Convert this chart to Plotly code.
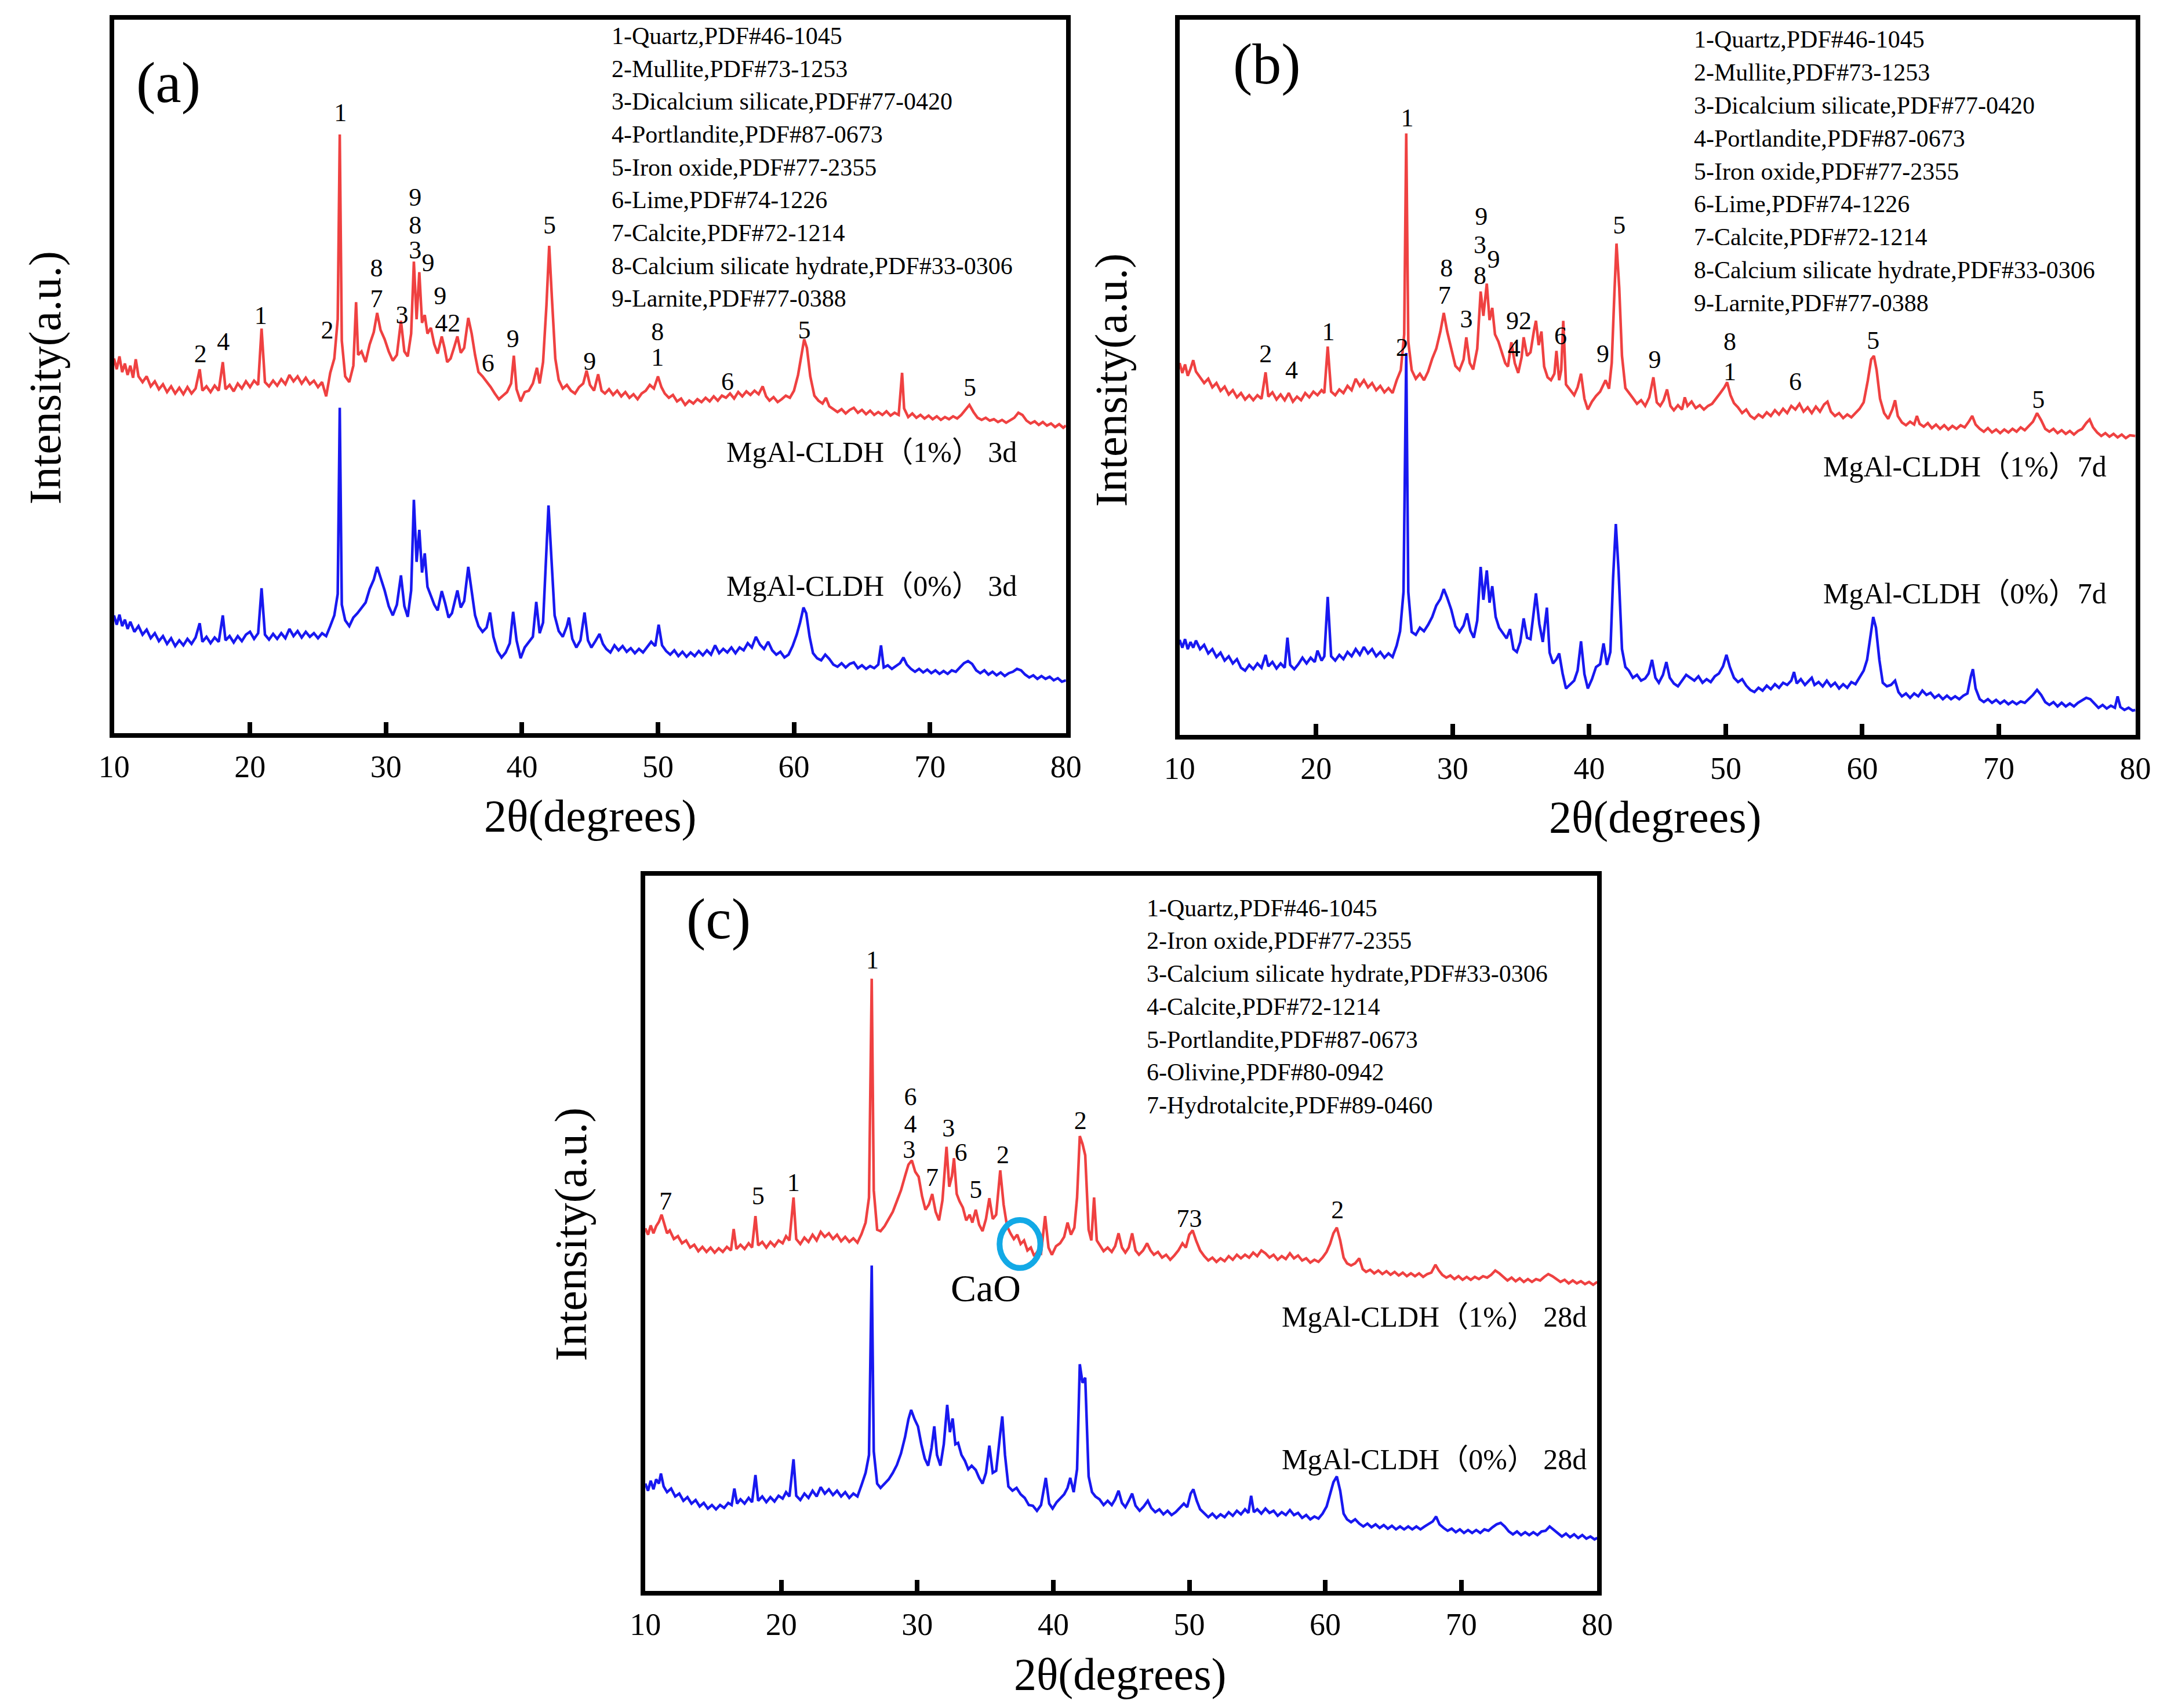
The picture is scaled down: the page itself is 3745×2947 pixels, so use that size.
import plotly.graph_objects as go

# ---------------- panel (a): 3 d ----------------
a_red = [(10.0,52.5),(10.2,51.0),(10.4,52.8),(10.6,50.6),(10.8,51.8),(11.0,50.2),(11.2,51.5),(11.4,49.8),(11.6,52.4),(11.8,50.0),
    (12.1,49.2),(12.4,50.0),(12.7,48.6),(13.0,49.3),(13.3,48.2),(13.6,48.9),(13.9,47.8),(14.2,48.6),(14.5,47.6),(14.8,48.4),
    (15.1,47.5),(15.4,48.5),(15.7,47.6),(16.0,48.3),(16.3,51.0),(16.5,48.0),(16.8,48.6),(17.1,47.8),(17.4,48.7),(17.7,48.0),
    (18.0,52.0),(18.2,48.2),(18.5,48.8),(18.8,47.9),(19.1,49.0),(19.4,48.3),(19.7,49.3),(20.0,48.5),(20.3,49.4),(20.6,48.8),
    (20.85,56.7),(21.1,49.2),(21.4,48.6),(21.7,49.4),(22.0,48.7),(22.3,49.6),(22.6,48.9),(22.9,50.2),(23.2,49.3),(23.5,50.0),
    (23.8,49.0),(24.1,49.8),(24.4,48.9),(24.7,49.4),(25.0,48.5),(25.3,49.2),(25.6,47.2),(25.9,50.5),(26.2,52.5),(26.45,58.0),
    (26.6,83.9),(26.75,55.0),(27.0,50.0),(27.3,49.2),(27.6,51.5),(27.8,60.4),(27.95,53.0),(28.2,53.5),(28.5,52.0),(28.8,54.5),
    (29.1,56.2),(29.35,58.9),(29.6,56.5),(29.9,55.2),(30.2,53.5),(30.5,52.2),(30.8,53.0),(31.1,57.8),(31.35,53.5),(31.6,52.8),
    (31.85,56.0),(32.05,66.1),(32.25,58.0),(32.45,64.6),(32.65,57.5),(32.85,58.6),(33.05,56.0),(33.3,56.8),(33.55,54.5),(33.8,53.2),
    (34.1,55.6),(34.3,54.0),(34.5,52.0),(34.75,52.5),(35.0,54.0),(35.25,55.6),(35.5,53.3),(35.75,54.0),(36.05,58.2),(36.3,56.0),
    (36.55,53.0),(36.8,50.6),(37.1,50.0),(37.4,49.3),(37.7,48.5),(38.0,47.6),(38.3,46.8),(38.6,47.3),(38.9,47.8),(39.2,49.0),
    (39.4,52.9),(39.6,48.2),(39.9,46.5),(40.2,47.8),(40.5,48.0),(40.8,49.0),(41.1,51.2),(41.3,49.0),(41.55,52.0),(41.8,60.0),
    (42.0,68.3),(42.2,61.0),(42.45,52.5),(42.7,49.5),(43.0,48.3),(43.3,48.8),(43.6,48.0),(43.9,47.6),(44.2,48.5),(44.5,49.0),
    (44.75,50.8),(45.0,48.8),(45.3,48.0),(45.6,50.3),(45.85,48.0),(46.1,47.6),(46.4,48.2),(46.7,47.4),(47.0,48.0),(47.3,47.2),
    (47.6,47.8),(47.9,47.0),(48.2,47.5),(48.5,46.8),(48.8,47.6),(49.1,48.0),(49.4,48.8),(49.7,48.3),(50.0,50.0),(50.25,48.5),
    (50.5,47.6),(50.8,47.0),(51.1,47.4),(51.4,46.5),(51.7,46.9),(52.0,46.0),(52.3,46.6),(52.6,46.2),(52.9,46.8),(53.2,46.4),
    (53.5,47.0),(53.8,46.5),(54.1,47.2),(54.4,46.6),(54.7,47.3),(55.0,47.0),(55.3,47.6),(55.6,46.9),(55.9,47.8),(56.2,47.2),
    (56.5,47.9),(56.8,47.4),(57.1,48.0),(57.4,47.5),(57.7,48.6),(57.95,47.2),(58.2,46.6),(58.5,47.1),(58.8,46.4),(59.1,46.8),
    (59.4,47.3),(59.7,47.0),(60.0,48.0),(60.3,50.2),(60.55,53.0),(60.75,55.2),(60.95,54.0),(61.2,50.0),(61.5,47.3),(61.8,46.6),
    (62.1,46.2),(62.35,47.0),(62.6,45.8),(62.9,45.4),(63.2,45.0),(63.5,45.4),(63.8,44.8),(64.1,45.3),(64.4,45.6),(64.7,44.9),
    (65.0,45.3),(65.3,44.7),(65.6,45.2),(65.9,44.6),(66.2,45.0),(66.5,44.6),(66.8,45.1),(67.1,44.5),(67.4,44.9),(67.7,44.6),
    (67.95,50.5),(68.1,45.5),(68.4,44.3),(68.7,44.8),(69.0,44.2),(69.3,44.6),(69.6,44.1),(69.9,44.5),(70.2,44.0),(70.5,44.4),
    (70.8,43.9),(71.1,44.3),(71.4,44.0),(71.7,44.4),(72.0,44.1),(72.3,44.6),(72.6,45.3),(72.9,46.0),(73.2,45.0),(73.5,44.2),
    (73.8,43.9),(74.1,44.2),(74.4,43.8),(74.7,44.0),(75.0,43.6),(75.3,43.9),(75.6,43.5),(75.9,43.8),(76.2,44.2),(76.5,44.9),
    (76.8,44.6),(77.1,43.8),(77.4,43.4),(77.7,43.7),(78.0,43.2),(78.3,43.6),(78.6,43.1),(78.9,43.4),(79.2,42.9),(79.5,43.3),
    (79.8,42.8),(80.0,43.1)]

a_blue = [(10.0,16.5),(10.2,15.2),(10.4,16.6),(10.6,15.0),(10.8,15.9),(11.0,14.6),(11.2,15.6),(11.5,14.2),(11.8,15.0),(12.1,13.8),
    (12.4,14.5),(12.7,13.3),(13.0,14.0),(13.3,12.9),(13.6,13.6),(13.9,12.5),(14.2,13.3),(14.5,12.2),(14.8,13.0),(15.1,12.3),
    (15.4,13.2),(15.7,12.5),(16.0,13.4),(16.3,15.4),(16.5,12.8),(16.8,13.5),(17.1,12.6),(17.4,13.4),(17.7,12.8),(18.0,16.5),
    (18.2,13.0),(18.5,13.6),(18.8,12.7),(19.1,13.6),(19.4,12.9),(19.7,13.8),(20.0,14.2),(20.3,13.2),(20.6,14.0),(20.85,20.3),
    (21.1,13.8),(21.4,13.1),(21.7,13.9),(22.0,13.2),(22.3,14.0),(22.6,13.3),(22.9,14.6),(23.2,13.6),(23.5,14.3),(23.8,13.4),
    (24.1,14.2),(24.4,13.5),(24.7,14.0),(25.0,13.3),(25.3,14.0),(25.6,13.6),(25.9,15.0),(26.2,16.5),(26.45,19.5),(26.6,45.6),
    (26.75,18.0),(27.0,15.8),(27.3,15.0),(27.6,16.2),(27.9,16.8),(28.2,17.6),(28.5,18.3),(28.8,20.2),(29.1,21.5),(29.35,23.3),
    (29.6,21.8),(29.9,20.0),(30.2,17.8),(30.5,16.5),(30.8,18.0),(31.1,22.1),(31.35,17.8),(31.6,16.3),(31.85,20.0),(32.05,32.7),
    (32.25,24.0),(32.45,28.5),(32.65,22.5),(32.85,25.2),(33.05,20.5),(33.3,19.3),(33.55,18.0),(33.8,17.2),(34.1,19.9),(34.35,18.2),
    (34.6,16.2),(34.85,16.8),(35.05,18.5),(35.25,20.0),(35.5,17.6),(35.75,18.5),(36.05,23.3),(36.3,20.0),(36.55,16.5),(36.8,15.0),
    (37.1,14.2),(37.4,14.8),(37.65,16.9),(37.9,13.5),(38.2,11.5),(38.5,10.6),(38.8,11.3),(39.1,12.6),(39.35,17.0),(39.6,13.0),
    (39.9,10.5),(40.2,12.0),(40.5,12.8),(40.8,13.5),(41.05,18.4),(41.3,14.0),(41.55,15.5),(41.75,24.0),(41.95,31.9),(42.15,25.0),
    (42.4,16.5),(42.7,14.3),(43.0,13.5),(43.3,15.0),(43.45,16.2),(43.7,13.2),(44.0,12.0),(44.3,13.0),(44.6,16.9),(44.85,13.0),
    (45.1,12.0),(45.4,12.9),(45.7,13.9),(45.95,12.5),(46.2,11.8),(46.5,11.3),(46.8,12.3),(47.1,11.6),(47.4,12.2),(47.7,11.4),
    (48.0,11.9),(48.3,11.2),(48.6,11.8),(48.9,11.3),(49.2,12.0),(49.5,12.8),(49.8,12.2),(50.05,15.2),(50.3,12.3),(50.6,11.5),
    (50.9,11.0),(51.2,11.6),(51.5,10.8),(51.8,11.4),(52.1,10.7),(52.4,11.3),(52.7,10.8),(53.0,11.5),(53.3,10.9),(53.6,11.6),
    (53.9,11.0),(54.2,12.3),(54.5,11.2),(54.8,11.8),(55.1,11.3),(55.4,12.0),(55.7,11.2),(56.0,12.0),(56.3,11.6),(56.6,12.6),
    (56.9,12.0),(57.2,13.5),(57.5,12.4),(57.8,11.8),(58.1,12.8),(58.4,11.6),(58.7,11.0),(59.0,11.4),(59.3,10.6),(59.6,11.0),
    (59.9,12.2),(60.2,13.8),(60.45,15.5),(60.7,17.6),(60.9,16.8),(61.15,13.5),(61.4,11.2),(61.7,10.5),(62.0,10.2),(62.3,11.0),
    (62.6,10.4),(62.9,9.6),(63.2,9.3),(63.5,9.8),(63.8,9.2),(64.1,9.7),(64.4,9.9),(64.7,9.1),(65.0,9.5),(65.3,9.0),
    (65.6,9.4),(65.9,9.1),(66.2,9.6),(66.4,12.3),(66.6,9.2),(66.9,9.5),(67.2,9.0),(67.5,9.4),(67.8,9.8),(68.05,10.6),
    (68.3,9.6),(68.6,9.0),(68.9,8.6),(69.2,9.0),(69.5,8.5),(69.8,8.9),(70.1,8.4),(70.4,8.8),(70.7,8.3),(71.0,8.7),
    (71.3,8.3),(71.6,8.8),(71.9,8.6),(72.2,9.2),(72.5,9.8),(72.8,10.1),(73.1,9.7),(73.4,8.8),(73.7,8.4),(74.0,8.8),
    (74.3,8.2),(74.6,8.6),(74.9,8.1),(75.2,8.5),(75.5,8.0),(75.8,8.4),(76.1,8.6),(76.4,9.0),(76.7,8.8),(77.0,8.2),
    (77.3,7.8),(77.6,8.1),(77.9,7.6),(78.2,8.0),(78.5,7.6),(78.8,7.9),(79.1,7.4),(79.4,7.7),(79.7,7.2),(80.0,7.4)]

a_peaks = [(26.65,86.7,"1"),(16.36,52.9,"2"),(18.04,54.6,"4"),(20.79,58.2,"1"),(25.68,56.2,"2"),(29.3,64.9,"8"),
    (29.3,60.6,"7"),(31.18,58.3,"3"),(32.15,74.8,"9"),(32.15,70.9,"8"),(32.15,67.4,"3"),(33.1,65.6,"9"),
    (33.98,61.0,"9"),(34.54,57.2,"42"),(37.5,51.6,"6"),(39.33,55.0,"9"),(42.03,70.9,"5"),
    (44.98,51.8,"9"),(49.97,56.0,"8"),(49.97,52.4,"1"),(55.11,49.0,"6"),(60.76,56.2,"5"),(72.93,48.2,"5")]

# ---------------- panel (b): 7 d ----------------
b_red = [(10.0,52.0),(10.2,50.6),(10.4,51.8),(10.6,50.2),(10.8,51.2),(11.0,52.4),(11.2,50.8),(11.5,50.0),(11.8,49.2),(12.1,49.8),
    (12.4,48.6),(12.7,49.2),(13.0,48.1),(13.3,48.7),(13.6,47.6),(13.9,48.2),(14.2,47.2),(14.5,47.8),(14.8,46.9),(15.1,47.5),
    (15.4,46.8),(15.7,47.5),(16.0,47.0),(16.3,50.7),(16.5,47.3),(16.8,47.9),(17.1,46.9),(17.4,47.6),(17.7,46.8),(18.0,47.8),
    (18.3,46.6),(18.6,47.3),(18.9,46.8),(19.2,47.8),(19.5,47.2),(19.8,48.0),(20.1,47.5),(20.4,48.2),(20.6,47.8),(20.85,54.3),
    (21.1,48.0),(21.4,47.5),(21.7,48.3),(22.0,47.8),(22.3,48.8),(22.6,48.2),(22.9,49.8),(23.2,48.8),(23.5,49.6),(23.8,48.6),
    (24.1,49.2),(24.4,48.2),(24.7,48.8),(25.0,47.9),(25.3,48.5),(25.6,47.8),(25.9,49.6),(26.2,51.0),(26.45,56.0),(26.6,84.1),
    (26.75,55.0),(27.0,51.0),(27.3,49.8),(27.6,50.5),(27.9,49.6),(28.2,50.8),(28.5,52.6),(28.8,54.0),(29.1,56.4),(29.35,59.0),
    (29.6,56.4),(29.9,54.0),(30.2,51.6),(30.5,51.0),(30.8,52.5),(31.0,55.6),(31.25,52.0),(31.5,51.1),(31.8,54.0),(32.05,62.0),
    (32.25,58.6),(32.5,63.1),(32.7,58.0),(32.9,59.7),(33.1,56.0),(33.35,55.0),(33.6,53.6),(33.85,52.0),(34.05,51.5),(34.3,54.9),
    (34.55,52.0),(34.8,50.6),(35.05,52.8),(35.2,55.6),(35.45,53.0),(35.7,53.5),(35.95,56.5),(36.1,57.9),(36.3,54.5),(36.5,56.4),
    (36.7,51.5),(36.95,50.0),(37.2,49.6),(37.45,50.5),(37.6,53.7),(37.8,49.6),(37.95,51.0),(38.1,57.9),(38.3,49.0),(38.6,48.2),
    (38.9,47.5),(39.15,48.6),(39.4,50.5),(39.65,47.0),(39.9,45.5),(40.2,46.6),(40.5,47.4),(40.8,48.0),(41.0,48.8),(41.2,49.6),
    (41.45,48.4),(41.65,52.0),(41.85,62.0),(42.0,68.7),(42.2,62.5),(42.4,53.0),(42.65,48.5),(42.9,47.8),(43.2,47.1),(43.5,46.3),
    (43.8,46.8),(44.1,46.0),(44.4,47.2),(44.7,50.0),(44.95,46.5),(45.2,46.0),(45.45,46.8),(45.7,48.3),(45.95,46.0),(46.2,45.4),
    (46.5,46.1),(46.8,45.5),(47.0,47.2),(47.2,46.0),(47.5,46.6),(47.8,45.7),(48.1,46.1),(48.4,45.5),(48.7,46.0),(49.0,46.3),
    (49.3,47.0),(49.6,47.8),(49.9,48.6),(50.1,49.3),(50.35,47.5),(50.6,46.4),(50.9,45.8),(51.2,45.0),(51.5,45.5),(51.8,44.6),
    (52.1,44.2),(52.4,44.8),(52.7,44.4),(53.0,45.1),(53.3,44.6),(53.6,45.4),(53.9,44.8),(54.2,45.6),(54.5,45.0),(54.8,46.0),
    (55.1,45.5),(55.4,46.3),(55.7,45.2),(56.0,45.8),(56.3,45.0),(56.6,45.9),(56.9,45.2),(57.2,46.2),(57.45,46.6),(57.7,45.2),
    (58.0,44.6),(58.3,45.0),(58.6,44.3),(58.9,44.8),(59.2,44.4),(59.5,45.0),(59.8,45.6),(60.1,46.5),(60.4,49.5),(60.65,52.5),
    (60.85,53.0),(61.05,51.0),(61.3,47.0),(61.6,45.0),(61.9,44.2),(62.2,45.5),(62.4,46.8),(62.6,44.6),(62.9,43.7),(63.2,43.3),
    (63.5,43.8),(63.8,43.4),(64.0,44.6),(64.2,43.5),(64.5,43.1),(64.8,43.6),(65.1,42.9),(65.4,43.4),(65.7,42.8),(66.0,43.3),
    (66.3,42.7),(66.6,43.2),(66.9,42.8),(67.2,43.3),(67.5,43.0),(67.8,43.8),(68.05,44.6),(68.3,43.4),(68.6,42.8),(68.9,42.4),
    (69.2,42.9),(69.5,42.3),(69.8,42.7),(70.1,42.2),(70.4,42.7),(70.7,42.3),(71.0,42.8),(71.3,42.4),(71.6,43.0),(71.9,42.6),
    (72.2,43.2),(72.5,43.8),(72.8,45.0),(73.1,44.0),(73.4,42.8),(73.7,42.4),(74.0,42.8),(74.3,42.2),(74.6,42.6),(74.9,42.1),
    (75.2,42.5),(75.5,42.0),(75.8,42.5),(76.1,42.8),(76.4,43.6),(76.65,44.1),(76.9,43.0),(77.2,42.3),(77.5,41.8),(77.8,42.2),
    (78.1,41.7),(78.4,42.1),(78.7,41.6),(79.0,42.0),(79.3,41.5),(79.6,41.9),(80.0,41.8)]

b_blue = [(10.0,13.3),(10.2,12.2),(10.4,13.4),(10.6,12.0),(10.8,13.0),(11.0,12.2),(11.2,13.2),(11.5,12.0),(11.8,12.6),(12.1,11.4),
    (12.4,12.0),(12.7,10.9),(13.0,11.5),(13.3,10.4),(13.6,11.0),(13.9,10.0),(14.2,10.6),(14.5,9.4),(14.8,9.0),(15.1,9.8),
    (15.4,9.2),(15.7,10.0),(16.0,9.4),(16.3,11.2),(16.5,9.6),(16.8,10.2),(17.1,9.3),(17.4,10.0),(17.7,9.4),(17.9,13.6),
    (18.1,9.8),(18.4,9.2),(18.7,9.9),(19.0,10.8),(19.3,10.0),(19.6,10.8),(19.9,10.2),(20.1,11.8),(20.4,10.4),(20.6,11.0),
    (20.85,19.3),(21.1,11.0),(21.4,10.4),(21.7,11.2),(22.0,10.6),(22.3,11.6),(22.6,11.0),(22.9,12.0),(23.2,11.2),(23.5,12.3),
    (23.8,11.4),(24.1,12.0),(24.4,11.0),(24.7,11.6),(25.0,10.8),(25.3,11.4),(25.6,10.9),(25.9,12.5),(26.15,14.5),(26.4,20.0),
    (26.6,53.4),(26.75,20.0),(27.0,14.4),(27.3,14.0),(27.6,15.0),(27.9,14.5),(28.2,15.4),(28.5,16.5),(28.8,18.1),(29.1,19.0),
    (29.35,20.4),(29.6,19.2),(29.9,17.5),(30.2,15.2),(30.5,14.4),(30.8,15.3),(31.05,17.0),(31.3,14.6),(31.55,13.6),(31.8,16.0),
    (32.05,23.5),(32.25,18.9),(32.5,23.0),(32.7,18.5),(32.9,20.8),(33.15,16.5),(33.4,15.0),(33.7,14.2),(33.95,13.5),(34.2,14.8),
    (34.45,12.0),(34.7,11.6),(34.95,13.0),(35.2,16.3),(35.45,13.6),(35.7,13.4),(35.95,17.0),(36.1,19.8),(36.35,15.5),(36.6,13.0),
    (36.9,17.8),(37.1,11.5),(37.35,10.0),(37.6,10.6),(37.8,11.4),(38.05,8.6),(38.3,6.5),(38.6,7.0),(38.9,7.6),(39.15,9.0),
    (39.4,13.1),(39.65,8.5),(39.9,6.5),(40.2,7.8),(40.5,9.5),(40.8,9.9),(41.05,12.8),(41.3,9.8),(41.55,11.6),(41.75,22.0),
    (41.95,29.5),(42.15,23.0),(42.4,12.0),(42.65,9.5),(42.9,9.0),(43.2,8.0),(43.5,8.4),(43.8,7.6),(44.1,7.9),(44.35,8.6),
    (44.6,10.5),(44.85,8.0),(45.1,7.3),(45.4,8.4),(45.65,10.2),(45.9,8.0),(46.2,7.2),(46.5,6.8),(46.8,7.6),(47.1,8.4),
    (47.4,8.0),(47.7,7.6),(48.0,8.2),(48.3,7.3),(48.6,7.8),(48.9,7.4),(49.2,8.2),(49.5,8.6),(49.8,9.6),(50.05,11.2),
    (50.3,9.5),(50.6,8.0),(50.9,7.4),(51.2,7.8),(51.5,6.9),(51.8,6.3),(52.1,6.0),(52.4,6.6),(52.7,6.2),(53.0,6.9),
    (53.3,6.4),(53.6,7.1),(53.9,6.6),(54.2,7.3),(54.5,7.0),(54.8,7.6),(55.0,8.8),(55.2,7.2),(55.5,7.8),(55.8,7.0),
    (56.1,7.6),(56.3,8.0),(56.5,7.0),(56.8,7.4),(57.1,6.8),(57.4,7.6),(57.7,6.8),(58.0,7.3),(58.3,6.5),(58.6,7.1),
    (58.9,6.6),(59.2,7.4),(59.5,7.1),(59.8,8.0),(60.1,9.0),(60.35,10.5),(60.6,14.0),(60.8,16.5),(61.0,15.0),(61.25,10.5),
    (61.5,7.3),(61.8,6.8),(62.1,7.0),(62.4,7.6),(62.65,6.0),(62.9,5.4),(63.2,5.8),(63.5,5.2),(63.8,5.8),(64.1,5.4),
    (64.4,6.2),(64.7,5.6),(65.0,5.9),(65.3,5.2),(65.6,5.6),(65.9,5.0),(66.2,5.5),(66.5,5.0),(66.8,5.4),(67.1,5.0),
    (67.4,5.5),(67.7,5.8),(67.95,8.2),(68.1,9.2),(68.3,6.5),(68.6,5.0),(68.9,4.6),(69.2,5.0),(69.5,4.5),(69.8,4.9),
    (70.1,4.4),(70.4,4.8),(70.7,4.3),(71.0,4.7),(71.3,4.3),(71.6,4.7),(71.9,4.5),(72.2,5.0),(72.5,5.6),(72.8,6.3),
    (73.1,5.6),(73.4,4.6),(73.7,4.2),(74.0,4.6),(74.3,4.0),(74.6,4.5),(74.9,4.0),(75.2,4.4),(75.5,4.0),(75.8,4.5),
    (76.1,4.8),(76.4,5.2),(76.7,5.0),(77.0,4.4),(77.3,3.8),(77.6,4.2),(77.9,3.7),(78.2,4.1),(78.5,3.8),(78.7,5.4),
    (78.9,3.9),(79.2,3.5),(79.5,3.8),(79.8,3.4),(80.0,3.5)]

b_peaks = [(26.67,86.0,"1"),(16.3,53.0,"2"),(18.2,50.7,"4"),(20.9,56.1,"1"),(26.3,53.9,"2"),(29.55,65.0,"8"),
    (29.4,61.2,"7"),(31.0,57.9,"3"),(32.1,72.2,"9"),(32.0,68.2,"3"),(33.0,66.2,"9"),(32.0,63.9,"8"),
    (34.85,57.6,"92"),(34.5,53.8,"4"),(37.9,55.5,"6"),(42.2,71.0,"5"),(41.0,53.0,"9"),
    (44.8,52.2,"9"),(50.3,54.7,"8"),(50.3,50.5,"1"),(55.1,49.1,"6"),(60.8,54.9,"5"),(72.9,46.6,"5")]

# ---------------- panel (c): 28 d ----------------
c_red = [(10.0,50.7),(10.2,49.8),(10.4,51.1),(10.6,50.0),(10.8,51.0),(11.0,51.6),(11.2,52.6),(11.4,51.4),(11.6,50.0),(11.8,50.4),
    (12.1,49.2),(12.4,49.6),(12.7,48.6),(13.0,49.0),(13.3,48.0),(13.6,48.4),(13.9,47.5),(14.2,48.1),(14.5,47.4),(14.8,48.0),
    (15.1,47.3),(15.4,47.9),(15.7,47.4),(16.0,48.1),(16.3,47.6),(16.5,50.6),(16.7,47.8),(17.0,48.4),(17.3,47.8),(17.6,48.6),
    (17.85,48.0),(18.1,52.4),(18.3,48.3),(18.6,48.8),(18.9,48.0),(19.2,48.8),(19.5,48.2),(19.8,49.0),(20.1,48.6),(20.35,49.6),
    (20.6,49.0),(20.9,55.0),(21.1,49.2),(21.4,48.5),(21.7,49.4),(22.0,48.8),(22.3,49.8),(22.6,49.0),(22.9,50.2),(23.2,49.5),
    (23.5,50.0),(23.8,49.2),(24.1,49.8),(24.4,48.9),(24.7,49.5),(25.0,48.8),(25.3,49.3),(25.6,48.7),(25.9,49.9),(26.2,51.5),
    (26.45,55.0),(26.65,85.6),(26.8,56.0),(27.05,50.5),(27.3,50.3),(27.6,51.0),(27.9,52.0),(28.2,53.0),(28.5,54.5),(28.8,56.0),
    (29.1,58.0),(29.35,59.6),(29.6,60.2),(29.85,58.6),(30.1,57.9),(30.35,55.2),(30.6,53.3),(30.85,54.0),(31.1,55.5),(31.35,53.0),
    (31.6,51.8),(31.85,54.6),(32.15,62.1),(32.35,56.5),(32.55,58.0),(32.7,60.5),(32.9,55.5),(33.1,54.5),(33.35,53.6),(33.6,51.8),
    (33.85,52.6),(34.05,51.5),(34.3,53.3),(34.55,51.2),(34.8,50.3),(35.05,52.0),(35.3,54.9),(35.55,52.0),(35.8,52.6),(36.1,58.8),
    (36.35,54.0),(36.6,51.0),(36.85,50.0),(37.1,49.2),(37.35,49.8),(37.6,48.5),(37.85,49.0),(38.1,47.6),(38.35,48.0),(38.6,46.8),
    (38.85,47.5),(39.1,47.2),(39.4,52.4),(39.65,48.0),(39.9,47.0),(40.2,48.2),(40.5,48.6),(40.8,49.5),(41.05,51.5),(41.3,49.8),
    (41.55,50.8),(41.75,55.0),(41.95,63.6),(42.15,62.5),(42.35,60.9),(42.6,50.5),(42.8,49.0),(43.0,55.0),(43.2,49.0),(43.45,48.3),
    (43.7,47.5),(44.0,48.0),(44.3,47.4),(44.55,48.2),(44.8,50.0),(45.05,48.0),(45.3,47.3),(45.55,48.0),(45.8,50.0),(46.05,47.6),
    (46.3,47.0),(46.6,47.6),(46.9,48.6),(47.15,47.6),(47.4,47.0),(47.7,47.4),(48.0,46.6),(48.3,47.0),(48.6,46.3),(48.9,46.9),
    (49.2,47.6),(49.5,48.6),(49.75,48.0),(50.0,49.8),(50.25,50.4),(50.5,49.0),(50.8,47.6),(51.1,46.8),(51.4,46.2),(51.7,46.6),
    (52.0,46.0),(52.3,46.5),(52.6,46.1),(52.9,46.8),(53.2,46.3),(53.5,47.0),(53.8,46.5),(54.1,47.0),(54.4,46.6),(54.7,47.3),
    (55.0,46.8),(55.3,47.6),(55.6,47.2),(55.9,46.6),(56.2,47.0),(56.5,46.3),(56.8,46.8),(57.1,46.4),(57.4,47.2),(57.7,46.5),
    (58.0,46.9),(58.3,46.2),(58.6,46.5),(58.9,45.9),(59.2,46.3),(59.5,46.0),(59.8,46.6),(60.1,47.4),(60.35,48.5),(60.6,50.0),
    (60.85,50.8),(61.1,49.0),(61.35,46.6),(61.6,45.8),(61.9,45.5),(62.2,45.8),(62.5,46.5),(62.75,45.0),(63.0,44.6),(63.3,44.9),
    (63.6,44.4),(63.9,44.8),(64.2,44.3),(64.5,44.7),(64.8,44.2),(65.1,44.6),(65.4,44.1),(65.7,44.5),(66.0,44.0),(66.3,44.4),
    (66.6,44.0),(66.9,44.4),(67.2,43.9),(67.5,44.3),(67.8,44.5),(68.1,45.6),(68.35,44.8),(68.6,44.2),(68.9,43.8),(69.2,44.1),
    (69.5,43.6),(69.8,44.0),(70.1,43.5),(70.4,43.9),(70.7,43.5),(71.0,43.9),(71.3,43.6),(71.6,44.0),(71.9,43.8),(72.2,44.2),
    (72.5,44.8),(72.8,44.4),(73.1,43.9),(73.4,43.4),(73.7,43.8),(74.0,43.3),(74.3,43.7),(74.6,43.2),(74.9,43.6),(75.2,43.2),
    (75.5,43.6),(75.8,43.4),(76.1,43.9),(76.4,44.3),(76.7,44.0),(77.0,43.6),(77.3,43.2),(77.6,43.5),(77.9,43.0),(78.2,43.4),
    (78.5,43.0),(78.8,43.3),(79.1,42.9),(79.4,43.2),(79.7,42.8),(80.0,43.2)]

c_blue = [(10.0,15.0),(10.2,14.0),(10.4,15.4),(10.6,14.2),(10.8,15.6),(11.0,15.0),(11.15,16.4),(11.35,14.6),(11.6,13.8),(11.9,14.3),
    (12.2,13.2),(12.5,13.6),(12.8,12.6),(13.1,13.1),(13.4,12.2),(13.7,12.7),(14.0,11.8),(14.3,12.3),(14.6,11.5),(14.9,12.0),
    (15.2,11.4),(15.5,12.0),(15.8,11.6),(16.1,12.3),(16.35,12.0),(16.55,14.3),(16.75,12.2),(17.0,12.8),(17.3,12.2),(17.6,13.0),
    (17.85,12.4),(18.1,16.2),(18.3,12.6),(18.6,13.2),(18.9,12.4),(19.2,13.1),(19.5,12.5),(19.8,13.3),(20.1,12.9),(20.35,13.8),
    (20.6,13.2),(20.9,18.4),(21.1,13.3),(21.4,12.7),(21.7,13.6),(22.0,13.0),(22.3,14.0),(22.6,13.2),(22.9,14.5),(23.2,13.6),
    (23.5,14.2),(23.8,13.4),(24.1,14.0),(24.4,13.2),(24.7,13.8),(25.0,13.0),(25.3,13.6),(25.6,13.2),(25.9,14.8),(26.2,16.5),
    (26.45,19.0),(26.65,45.5),(26.8,19.5),(27.05,15.0),(27.3,14.4),(27.6,15.0),(27.9,15.6),(28.2,16.5),(28.5,17.6),(28.8,19.2),
    (29.1,21.5),(29.35,24.0),(29.55,25.3),(29.8,24.0),(30.05,23.0),(30.3,20.5),(30.55,18.5),(30.8,17.5),(31.05,20.0),(31.25,23.0),
    (31.45,19.0),(31.7,17.5),(31.95,20.5),(32.2,26.0),(32.4,22.2),(32.6,24.1),(32.8,20.5),(33.0,20.7),(33.25,19.0),(33.5,18.2),
    (33.75,17.0),(34.0,17.5),(34.3,16.9),(34.55,15.8),(34.8,15.0),(35.05,16.5),(35.3,20.3),(35.55,16.5),(35.8,16.8),(36.1,22.0),
    (36.25,24.4),(36.45,19.0),(36.7,14.6),(37.0,14.0),(37.3,14.4),(37.6,13.5),(37.9,13.0),(38.2,12.0),(38.5,11.9),(38.8,11.2),
    (39.1,12.0),(39.45,15.8),(39.7,12.2),(39.95,11.5),(40.25,12.4),(40.55,13.0),(40.8,13.5),(41.05,14.4),(41.25,15.8),(41.5,13.8),
    (41.75,17.0),(41.95,31.7),(42.15,29.1),(42.35,29.8),(42.6,16.0),(42.85,13.8),(43.1,13.2),(43.4,12.8),(43.7,12.0),(44.0,12.6),
    (44.3,12.0),(44.55,12.8),(44.8,14.0),(45.05,12.3),(45.3,11.7),(45.55,12.6),(45.8,13.6),(46.05,11.9),(46.35,11.2),(46.65,11.8),
    (46.95,12.6),(47.2,11.6),(47.5,11.0),(47.8,11.4),(48.1,10.7),(48.4,11.2),(48.7,10.6),(49.0,11.0),(49.3,11.6),(49.6,12.2),
    (49.85,11.7),(50.1,13.6),(50.3,14.2),(50.55,12.6),(50.8,11.4),(51.1,10.8),(51.4,10.3),(51.7,10.8),(52.0,10.2),(52.3,10.7),
    (52.6,10.3),(52.9,11.0),(53.2,10.5),(53.5,11.2),(53.8,10.7),(54.1,11.4),(54.35,10.9),(54.55,13.3),(54.75,11.0),(55.0,11.4),
    (55.3,10.8),(55.6,11.5),(55.9,10.9),(56.2,11.2),(56.5,10.5),(56.8,11.0),(57.1,10.6),(57.4,11.3),(57.7,10.6),(58.0,10.9),
    (58.3,10.2),(58.6,10.6),(58.9,10.0),(59.2,10.4),(59.5,10.1),(59.8,10.8),(60.1,11.8),(60.35,13.5),(60.6,15.2),(60.85,16.0),
    (61.1,14.0),(61.35,10.8),(61.6,10.0),(61.9,9.6),(62.2,10.0),(62.5,9.4),(62.8,9.0),(63.1,9.4),(63.4,8.9),(63.7,9.3),
    (64.0,8.8),(64.3,9.2),(64.6,8.7),(64.9,9.1),(65.2,8.6),(65.5,9.0),(65.8,8.6),(66.1,9.0),(66.4,8.6),(66.7,9.0),
    (67.0,8.6),(67.3,9.0),(67.6,9.3),(67.9,9.7),(68.15,10.4),(68.4,9.3),(68.7,8.8),(69.0,8.4),(69.3,8.7),(69.6,8.2),
    (69.9,8.6),(70.2,8.1),(70.5,8.5),(70.8,8.1),(71.1,8.5),(71.4,8.1),(71.7,8.6),(72.0,8.4),(72.3,8.9),(72.6,9.3),
    (72.9,9.5),(73.2,9.0),(73.5,8.3),(73.8,7.9),(74.1,8.3),(74.4,7.8),(74.7,8.2),(75.0,7.8),(75.3,8.2),(75.6,7.8),
    (75.9,8.3),(76.2,8.4),(76.5,9.0),(76.8,8.5),(77.1,8.0),(77.4,7.6),(77.7,8.0),(78.0,7.5),(78.3,7.9),(78.6,7.4),
    (78.9,7.8),(79.2,7.3),(79.5,7.6),(79.8,7.2),(80.0,7.4)]

c_peaks = [(26.7,87.9,"1"),(11.5,54.2,"7"),(18.3,54.9,"5"),(20.9,56.8,"1"),(29.5,68.8,"6"),(29.5,65.0,"4"),
    (29.4,61.4,"3"),(31.1,57.5,"7"),(32.3,64.4,"3"),(33.2,61.0,"6"),(34.3,55.8,"5"),(36.3,60.7,"2"),
    (42.0,65.5,"2"),(50.0,51.8,"73"),(60.9,53.0,"2")]

ab_phases = ["1-Quartz,PDF#46-1045", "2-Mullite,PDF#73-1253", "3-Dicalcium silicate,PDF#77-0420",
             "4-Portlandite,PDF#87-0673", "5-Iron oxide,PDF#77-2355", "6-Lime,PDF#74-1226",
             "7-Calcite,PDF#72-1214", "8-Calcium silicate hydrate,PDF#33-0306", "9-Larnite,PDF#77-0388"]
c_phases = ["1-Quartz,PDF#46-1045", "2-Iron oxide,PDF#77-2355", "3-Calcium silicate hydrate,PDF#33-0306",
            "4-Calcite,PDF#72-1214", "5-Portlandite,PDF#87-0673", "6-Olivine,PDF#80-0942",
            "7-Hydrotalcite,PDF#89-0460"]

a_samples = ["MgAl-CLDH（1%） 3d", "MgAl-CLDH（0%） 3d"]
b_samples = ["MgAl-CLDH（1%）7d", "MgAl-CLDH（0%）7d"]
c_samples = ["MgAl-CLDH（1%） 28d", "MgAl-CLDH（0%） 28d"]

FONT = "Liberation Serif, Noto Sans CJK SC, serif"
RED = "#EF4141"
BLUE = "#1818F0"

fig = go.Figure()

panels = [
    dict(tag="(a)", red=a_red, blue=a_blue, peaks=a_peaks, phases=ab_phases, samples=a_samples,
         xd=[0.0438, 0.4887], yd=[0.5735, 0.9912], leg=(46.5, 97.7), tagxy=(14.0, 91.2),
         samp=(65.7, 39.4, 20.6), xt=(0.2665, 0.5250), yt=(0.0115, 0.7818)),
    dict(tag="(b)", red=b_red, blue=b_blue, peaks=b_peaks, phases=ab_phases, samples=b_samples,
         xd=[0.5418, 0.9885], yd=[0.5724, 0.9912], leg=(47.6, 97.2), tagxy=(16.4, 93.8),
         samp=(67.5, 37.5, 19.8), xt=(0.7642, 0.5245), yt=(0.5095, 0.7801)),
    dict(tag="(c)", red=c_red, blue=c_blue, peaks=c_peaks, phases=c_phases, samples=c_samples,
         xd=[0.2921, 0.7370], yd=[0.0713, 0.4900], leg=(46.8, 95.5), tagxy=(15.4, 94.0),
         samp=(68.0, 38.3, 18.4), xt=(0.514, 0.0225), yt=(0.2575, 0.2803)),
]

annotations = []
for i, p in enumerate(panels):
    n = "" if i == 0 else str(i + 1)
    xa, ya = "x" + n, "y" + n
    for series, color in ((p["red"], RED), (p["blue"], BLUE)):
        fig.add_trace(go.Scatter(x=[q[0] for q in series], y=[q[1] for q in series], mode="lines",
                                 line=dict(color=color, width=4.5), xaxis=xa, yaxis=ya,
                                 showlegend=False, hoverinfo="skip"))
    fig.add_trace(go.Scatter(x=[q[0] for q in p["peaks"]], y=[q[1] for q in p["peaks"]],
                             text=[q[2] for q in p["peaks"]], mode="text", textposition="middle center",
                             textfont=dict(family=FONT, size=44, color="black"),
                             xaxis=xa, yaxis=ya, showlegend=False, hoverinfo="skip"))
    lx, ly = p["leg"]
    for k, line in enumerate(p["phases"]):
        annotations.append(dict(x=lx, y=ly - 4.6 * k, xref=xa, yref=ya, text=line, showarrow=False,
                                xanchor="left", yanchor="middle", font=dict(family=FONT, size=42, color="black")))
    annotations.append(dict(x=p["tagxy"][0], y=p["tagxy"][1], xref=xa, yref=ya, text=p["tag"], showarrow=False,
                            xanchor="center", yanchor="middle", font=dict(family=FONT, size=100, color="black")))
    sx, sy1, sy0 = p["samp"]
    for s, sy in zip(p["samples"], (sy1, sy0)):
        annotations.append(dict(x=sx, y=sy, xref=xa, yref=ya, text=s, showarrow=False,
                                xanchor="center", yanchor="middle", font=dict(family=FONT, size=50, color="black")))
    annotations.append(dict(x=p["xt"][0], y=p["xt"][1], xref="paper", yref="paper", text="2θ(degrees)",
                            showarrow=False, xanchor="center", yanchor="middle",
                            font=dict(family=FONT, size=78, color="black")))
    annotations.append(dict(x=p["yt"][0], y=p["yt"][1], xref="paper", yref="paper", text="Intensity(a.u.)",
                            showarrow=False, xanchor="center", yanchor="middle", textangle=-90,
                            font=dict(family=FONT, size=78, color="black")))
    axis_x = dict(domain=p["xd"], range=[10, 80], tickvals=[10, 20, 30, 40, 50, 60, 70, 80],
                  ticks="inside", ticklen=19, tickwidth=8, tickcolor="black",
                  showline=True, linewidth=8, linecolor="black", mirror=True, showgrid=False, zeroline=False,
                  tickfont=dict(family=FONT, size=54, color="black"), ticklabelstandoff=3, anchor=ya)
    axis_y = dict(domain=p["yd"], range=[0, 100], showticklabels=False, ticks="",
                  showline=True, linewidth=8, linecolor="black", mirror=True, showgrid=False, zeroline=False,
                  anchor=xa)
    fig.update_layout(**{"xaxis" + n: axis_x, "yaxis" + n: axis_y})

# CaO marker in panel (c)
annotations.append(dict(x=35.05, y=42.3, xref="x3", yref="y3", text="CaO", showarrow=False,
                        xanchor="center", yanchor="middle", font=dict(family=FONT, size=66, color="black")))
fig.add_shape(type="circle", xref="x3", yref="y3", x0=37.55 - 1.5, x1=37.55 + 1.5, y0=48.5 - 3.35, y1=48.5 + 3.35,
              line=dict(color="#12A9E6", width=10))

fig.update_layout(width=3745, height=2947, margin=dict(l=0, r=0, t=0, b=0),
                  paper_bgcolor="white", plot_bgcolor="white", annotations=annotations, showlegend=False)

fig.write_html("out.html")
